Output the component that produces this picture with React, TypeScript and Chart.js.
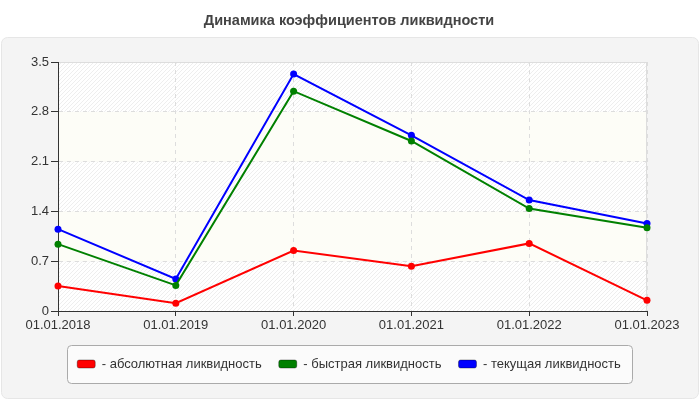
import { useEffect, useRef } from 'react'
import { Chart, registerables } from 'chart.js'

Chart.register(...registerables)

const dates = ['01.01.2018', '01.01.2019', '01.01.2020', '01.01.2021', '01.01.2022', '01.01.2023']
const absoluteLiquidity = [0.35, 0.11, 0.85, 0.63, 0.95, 0.15]
const quickLiquidity = [0.94, 0.36, 3.09, 2.39, 1.44, 1.17]
const currentLiquidity = [1.15, 0.45, 3.33, 2.47, 1.56, 1.23]
const seriesNames = ['абсолютная ликвидность', 'быстрая ликвидность', 'текущая ликвидность']
const seriesColors = ['#ff0000', '#008000', '#0000ff']

const FONT = '"Liberation Sans", Arial, sans-serif'

function roundRect(ctx: CanvasRenderingContext2D, x: number, y: number, w: number, h: number, r: number) {
  ctx.beginPath()
  ctx.moveTo(x + r, y)
  ctx.lineTo(x + w - r, y)
  ctx.arcTo(x + w, y, x + w, y + r, r)
  ctx.lineTo(x + w, y + h - r)
  ctx.arcTo(x + w, y + h, x + w - r, y + h, r)
  ctx.lineTo(x + r, y + h)
  ctx.arcTo(x, y + h, x, y + h - r, r)
  ctx.lineTo(x, y + r)
  ctx.arcTo(x, y, x + r, y, r)
  ctx.closePath()
}

function makeHatch(ctx: CanvasRenderingContext2D) {
  const c = document.createElement('canvas')
  c.width = 4
  c.height = 4
  const p = c.getContext('2d')!
  p.fillStyle = '#ffffff'
  p.fillRect(0, 0, 4, 4)
  p.strokeStyle = '#eeeeee'
  p.lineWidth = 1
  p.beginPath()
  p.moveTo(0, 4)
  p.lineTo(4, 0)
  p.moveTo(-1, 1)
  p.lineTo(1, -1)
  p.moveTo(3, 5)
  p.lineTo(5, 3)
  p.stroke()
  return ctx.createPattern(c, 'repeat')
}

// background panel, striped plot bands and the legend frame
const backdrop = {
  id: 'backdrop',
  beforeDraw(chart: any) {
    const { ctx, chartArea: a, scales } = chart
    ctx.save()
    roundRect(ctx, 1.5, 37.5, 697, 361, 6)
    ctx.fillStyle = '#f4f4f4'
    ctx.fill()
    ctx.strokeStyle = '#e6e6e6'
    ctx.lineWidth = 1
    ctx.stroke()

    const y = scales.y
    const hatch = makeHatch(ctx)
    const ticks = y.ticks
    for (let i = 0; i < ticks.length - 1; i++) {
      const top = y.getPixelForValue(ticks[i + 1].value)
      const bottom = y.getPixelForValue(ticks[i].value)
      ctx.fillStyle = i % 2 === 0 ? (hatch as any) : '#fdfdf7'
      ctx.fillRect(a.left, top, a.right - a.left, bottom - top)
    }
    ctx.strokeStyle = '#dddddd'
    ctx.beginPath()
    ctx.moveTo(a.left, a.top + 0.5)
    ctx.lineTo(a.right - 0.5, a.top + 0.5)
    ctx.lineTo(a.right - 0.5, a.bottom)
    ctx.stroke()

    const boxes = chart.legend?.legendHitBoxes || []
    if (boxes.length) {
      const left = Math.min(...boxes.map((b: any) => b.left)) - 10.5
      const right = Math.max(...boxes.map((b: any) => b.left + b.width)) + 11
      const cy = boxes[0].top + boxes[0].height / 2
      roundRect(ctx, Math.round(left) + 0.5, Math.round(cy - 19) + 0.5, Math.round(right - left), 38, 4)
      ctx.fillStyle = '#fbfbfb'
      ctx.fill()
      ctx.strokeStyle = '#aaaaaa'
      ctx.stroke()
    }
    ctx.restore()
  },
}

export default function App() {
  const chartRef = useRef<HTMLCanvasElement>(null)
  const chartInstance = useRef<Chart | null>(null)

  useEffect(() => {
    if (!chartRef.current) return
    if (chartInstance.current) chartInstance.current.destroy()

    const values = [absoluteLiquidity, quickLiquidity, currentLiquidity]
    const datasets = values.map((data, i) => ({
      label: seriesNames[i],
      data,
      borderColor: seriesColors[i],
      backgroundColor: seriesColors[i],
      borderWidth: 2,
      pointRadius: 3.5,
      pointBorderWidth: 0,
      pointBackgroundColor: seriesColors[i],
      tension: 0,
      fill: false,
    }))

    chartInstance.current = new Chart(chartRef.current, {
      type: 'line',
      data: { labels: dates, datasets },
      plugins: [backdrop],
      options: {
        responsive: true,
        maintainAspectRatio: false,
        animation: false,
        layout: { padding: { left: 0, right: 2, top: 0, bottom: 19.5 } },
        font: { family: FONT },
        plugins: {
          title: {
            display: true,
            text: 'Динамика коэффициентов ликвидности',
            color: '#444444',
            font: { family: FONT, size: 14.5, weight: 'bold' },
            padding: { top: 12.5, bottom: 32.1 },
          },
          legend: {
            display: true,
            position: 'bottom',
            labels: {
              color: '#333333',
              font: { family: FONT, size: 13 },
              boxWidth: 18,
              boxHeight: 8,
              padding: 17,
              useBorderRadius: true,
              borderRadius: 2,
              generateLabels: (chart: any) =>
                chart.data.datasets.map((ds: any, i: number) => ({
                  text: '- ' + ds.label,
                  fillStyle: ds.borderColor,
                  strokeStyle: 'rgba(0,0,0,0.35)',
                  lineWidth: 1,
                  fontColor: '#333333',
                  datasetIndex: i,
                  hidden: false,
                  borderRadius: 2,
                })),
            },
          },
          tooltip: { enabled: false },
        },
        scales: {
          x: {
            type: 'category',
            offset: false,
            afterFit: (scale: any) => {
              scale.height = 29.5
            },
            grid: { color: '#dddddd', tickColor: '#333333', tickLength: 5, drawTicks: true },
            border: { color: '#333333', width: 1, dash: [4, 4] },
            ticks: {
              color: '#333333',
              font: { family: FONT, size: 13 },
              padding: 2,
              maxRotation: 0,
              autoSkip: false,
            },
          },
          y: {
            min: 0,
            max: 3.5,
            afterFit: (scale: any) => {
              scale.width = 58
            },
            grid: { color: '#dddddd', tickColor: '#333333', tickLength: 7, drawTicks: true },
            border: { color: '#333333', width: 1, dash: [4, 4] },
            ticks: {
              stepSize: 0.7,
              color: '#333333',
              font: { family: FONT, size: 13 },
              padding: 2,
              callback: (v: any) => String(Number(Number(v).toFixed(1))),
            },
          },
          // empty right-hand spacer, keeps the plot clear of the last date label
          spacer: {
            type: 'linear',
            position: 'right',
            afterFit: (scale: any) => {
              scale.width = 51
            },
            grid: { display: false, drawTicks: false },
            border: { display: false },
            ticks: { display: false },
          },
        },
      },
    } as any)

    return () => {
      if (chartInstance.current) {
        chartInstance.current.destroy()
        chartInstance.current = null
      }
    }
  }, [])

  return (
    <div style={{ position: 'fixed', left: 0, top: 0, width: 700, height: 400, background: '#ffffff' }}>
      <canvas ref={chartRef} />
    </div>
  )
}
